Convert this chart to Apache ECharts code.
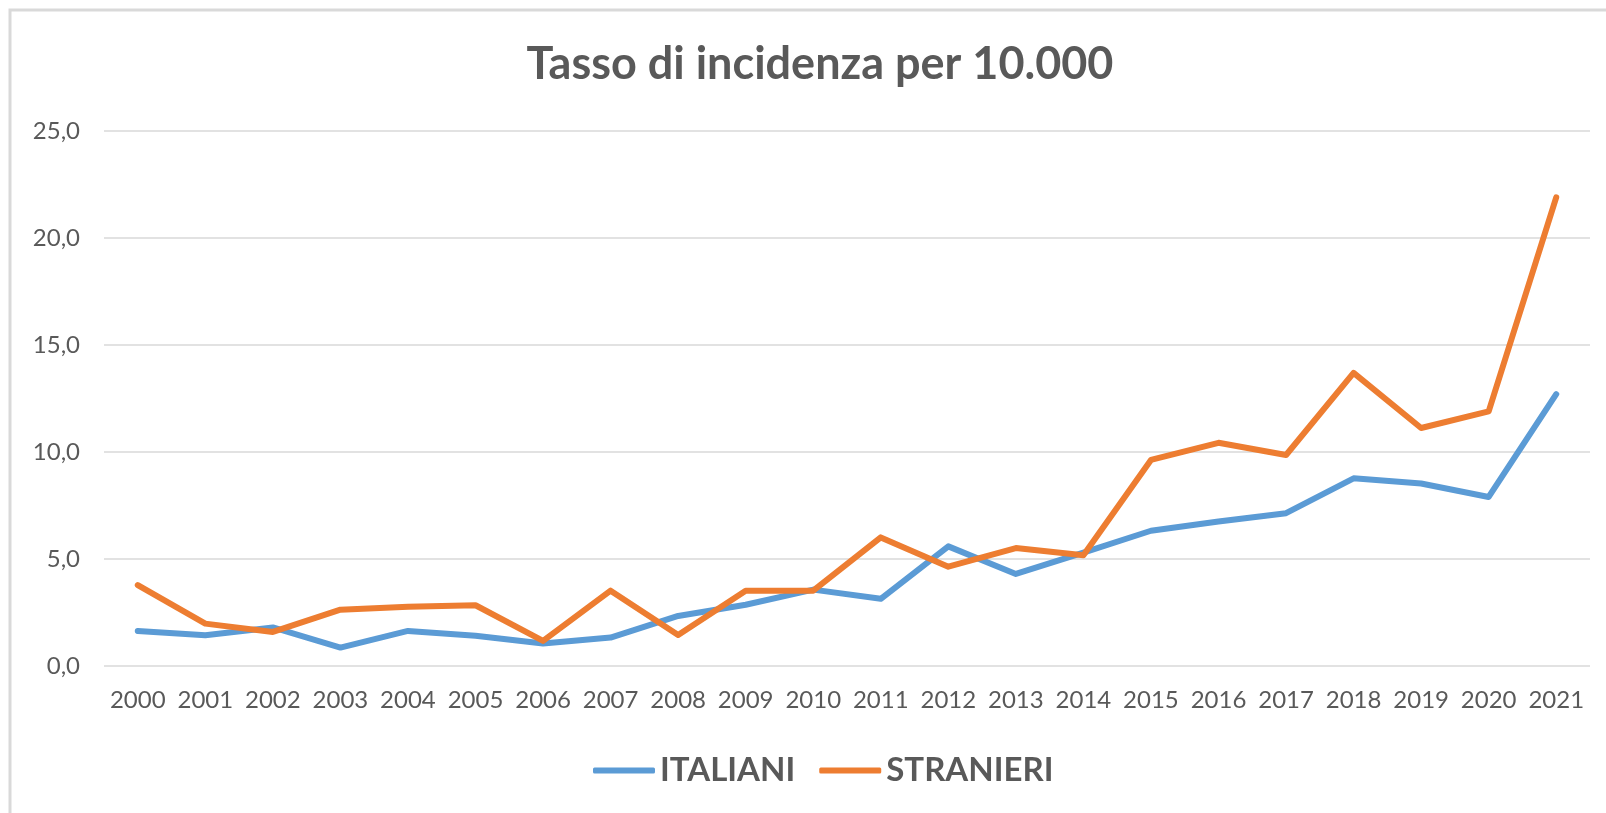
<!DOCTYPE html>
<html>
<head>
<meta charset="utf-8">
<script src="https://cdn.jsdelivr.net/npm/echarts@6/dist/echarts.min.js"></script>
<style>
  html, body { margin: 0; padding: 0; background: #fff; }
  #main { width: 1606px; height: 813px; }
</style>
</head>
<body>
<div id="main"></div>
<script>
const years = ['2000', '2001', '2002', '2003', '2004', '2005', '2006', '2007', '2008', '2009', '2010',
  '2011', '2012', '2013', '2014', '2015', '2016', '2017', '2018', '2019', '2020', '2021'];
const italiani = [1.64, 1.44, 1.80, 0.86, 1.64, 1.41, 1.05, 1.33, 2.34, 2.86, 3.57,
  3.14, 5.59, 4.30, 5.30, 6.32, 6.75, 7.14, 8.77, 8.53, 7.90, 12.70];
const stranieri = [3.78, 1.98, 1.59, 2.63, 2.77, 2.84, 1.17, 3.52, 1.45, 3.52, 3.52,
  6.01, 4.64, 5.51, 5.18, 9.63, 10.43, 9.86, 13.70, 11.12, 11.90, 21.90];

const FONT = 'Lato, "Open Sans", sans-serif';
const GREY = '#595959';

const chart = echarts.init(document.getElementById('main'));

const option = {
  animation: false,
  title: {
    text: 'Tasso di incidenza per 10.000',
    left: 815,
    textAlign: 'center',
    top: 37,
    textStyle: { fontFamily: FONT, fontSize: 45, fontWeight: 'bold', color: GREY }
  },
  graphic: [{
    type: 'rect',
    shape: { x: 10, y: 10, width: 1700, height: 900 },
    style: { fill: 'none', stroke: '#d9d9d9', lineWidth: 3 },
    silent: true
  }],
  legend: {
    left: 588,
    top: 749,
    itemWidth: 62,
    itemHeight: 6,
    itemGap: 24,
    icon: 'roundRect',
    textStyle: { fontFamily: FONT, fontSize: 33, fontWeight: 'bold', color: GREY, padding: [0, 0, 0, 0] },
    data: ['ITALIANI', 'STRANIERI']
  },
  grid: { left: 104, right: 16, top: 131, bottom: 147 },
  xAxis: {
    type: 'category',
    data: years,
    boundaryGap: true,
    axisLine: { show: false },
    axisTick: { show: false },
    axisLabel: { interval: 0, fontFamily: FONT, fontSize: 24, color: GREY, margin: 22 }
  },
  yAxis: {
    type: 'value',
    min: 0,
    max: 25,
    interval: 5,
    axisLine: { show: false },
    axisTick: { show: false },
    splitLine: { lineStyle: { color: '#d9d9d9', width: 1.5 } },
    axisLabel: {
      fontFamily: FONT, fontSize: 24, color: GREY, margin: 24,
      formatter: v => v.toFixed(1).replace('.', ',')
    }
  },
  series: [
    {
      name: 'ITALIANI',
      type: 'line',
      data: italiani,
      showSymbol: false,
      symbol: 'none',
      lineStyle: { color: '#5B9BD5', width: 6, cap: 'round', join: 'round' },
      itemStyle: { color: '#5B9BD5' }
    },
    {
      name: 'STRANIERI',
      type: 'line',
      data: stranieri,
      showSymbol: false,
      symbol: 'none',
      lineStyle: { color: '#ED7D31', width: 6, cap: 'round', join: 'round' },
      itemStyle: { color: '#ED7D31' }
    }
  ]
};

chart.setOption(option);
</script>
</body>
</html>
